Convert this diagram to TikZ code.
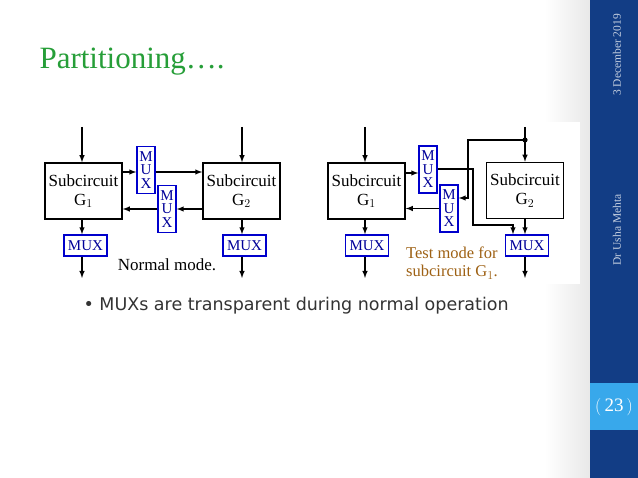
\documentclass[tikz,border=0pt]{standalone}
\usepackage{fontspec}
\setmainfont{Liberation Serif}
\newfontfamily\bulletfont{DejaVu Sans}
\usetikzlibrary{arrows,positioning,calc}
\definecolor{titleGreen}{rgb}{0.15,0.62,0.22}
\definecolor{sideBlue}{rgb}{0.07,0.24,0.52}
\definecolor{pageBlue}{rgb}{0.22,0.66,0.92}
\definecolor{testBrown}{rgb}{0.62,0.38,0.08}
\tikzset{
  sub/.style={draw,line width=1.5pt,minimum width=77pt,minimum height=56pt,inner sep=0pt,align=center,font=\fontsize{17}{19}\selectfont},
  vmux/.style={draw=blue!80!black,line width=1.4pt,fill=white,minimum width=18pt,minimum height=47pt,inner sep=0pt,align=center,font=\fontsize{15}{13.5}\selectfont,text=blue!60!black},
  hmux/.style={draw=blue!80!black,line width=1.4pt,fill=white,minimum width=43pt,minimum height=21pt,inner sep=0pt,font=\fontsize{15}{15}\selectfont,text=blue!60!black},
  wire/.style={line width=1.4pt,-latex}
}
\begin{document}
\begin{tikzpicture}[x=1pt,y=-1pt]
\useasboundingbox (0,0) rectangle (638,478);
\shade[left color=white,right color=gray!18] (545,0) rectangle (590,478);
\fill[white] (0,0) rectangle (545,478);
\fill[white] (308,122) rectangle (580,284);
\fill[sideBlue] (590,0) rectangle (638,478);
\fill[pageBlue] (590,383) rectangle (638,430);
\node[white,font=\fontsize{19}{19}\selectfont] (pg) at (614,407) {$\Big($\,23\,$\Big)$};
\node[rotate=90,white!75!sideBlue,font=\fontsize{11.5}{11.5}\selectfont] (date) at (617,55) {3 December 2019};
\node[rotate=90,white!75!sideBlue,font=\fontsize{11.5}{11.5}\selectfont] (auth) at (617,230) {Dr Usha Mehta};

\node[anchor=west,titleGreen,font=\fontsize{31}{31}\selectfont] (title) at (36,62) {Partitioning\dots.};
\node[anchor=west,gray!40!black,font=\bulletfont\fontsize{17.5}{17.5}\selectfont] (bul) at (80,306) {\textbullet\ MUXs are transparent during normal operation};

% normal mode
\node[sub] (G1) at (83.5,191) {Subcircuit\\G$_1$};
\node[sub] (G2) at (241.5,191) {Subcircuit\\G$_2$};
\node[vmux] (M1) at (146,170) {M\\U\\X};
\node[vmux] (M2) at (167,209) {M\\U\\X};
\node[hmux] (B1) at (85.5,245.5) {MUX};
\node[hmux] (B2) at (244.5,245.5) {MUX};
\coordinate (i1) at (82,127);
\coordinate (i2) at (242,127);
\coordinate (o1) at (82,278);
\coordinate (o2) at (242,278);
\draw[wire] (i1) -- (i1 |- G1.north);
\draw[wire] (i2) -- (i2 |- G2.north);
\draw[wire] (G1.east |- 0,172) -- (M1.west |- 0,172);
\draw[wire] (M1.east |- 0,172) -- (G2.west |- 0,172);
\draw[wire] (G2.west |- M2) -- (M2.east);
\draw[wire] (M2.west) -- (M2 -| G1.east);
\draw[wire] (i1 |- G1.south) -- (i1 |- B1.north);
\draw[wire] (i2 |- G2.south) -- (i2 |- B2.north);
\draw[wire] (i1 |- B1.south) -- (o1);
\draw[wire] (i2 |- B2.south) -- (o2);
\node[font=\fontsize{17}{17}\selectfont] (nm) at (167,265) {Normal mode.};

% test mode
\node[sub] (T1) at (366.5,191) {Subcircuit\\G$_1$};
\node[sub] (T2) at (525,190.5) {Subcircuit\\G$_2$};
\node[vmux] (N1) at (428,169.5) {M\\U\\X};
\node[vmux] (N2) at (449,208.5) {M\\U\\X};
\node[hmux] (C1) at (367,245.5) {MUX};
\node[hmux] (C2) at (527,245.5) {MUX};
\coordinate (j1) at (365,127);
\coordinate (j2) at (525,127);
\coordinate (dot) at (525,140);
\coordinate (p1) at (365,278);
\coordinate (p2) at (525,278);
\draw[wire] (j1) -- (j1 |- T1.north);
\draw[wire] (j2) -- (j2 |- T2.north);
\fill (dot) circle (2.6pt);
\draw[wire] (dot) -- (468,140) -- (468,198) -- (N2.east |- 0,198);
\draw[wire] (T1.east |- 0,173) -- (N1.west |- 0,173);
\draw[wire] (N1.east |- 0,169) -- (473,169) -- (473,225) -- (513,225) -- (513,235 |- C2.north);
\draw[wire] (N2.west) -- (N2 -| T1.east);
\draw[wire] (j1 |- T1.south) -- (j1 |- C1.north);
\draw[wire] (j2 |- T2.south) -- (j2 |- C2.north);
\draw[wire] (j1 |- C1.south) -- (p1);
\draw[wire] (j2 |- C2.south) -- (p2);
\node[testBrown,align=left,font=\fontsize{16.5}{18}\selectfont] (tm) at (452,263) {Test mode for\\subcircuit G$_1$.};
\end{tikzpicture}
\end{document}
